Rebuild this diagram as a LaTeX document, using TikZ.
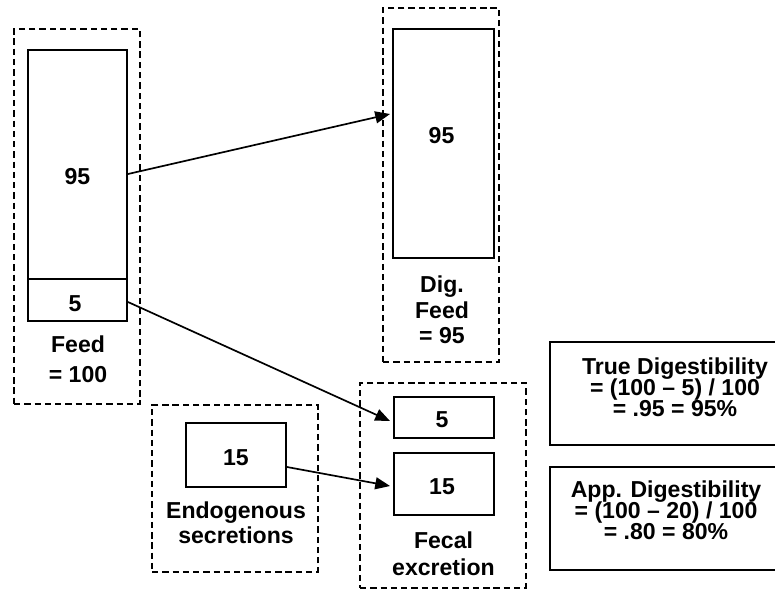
\documentclass[tikz,border=0pt]{standalone}
\usepackage{fontspec}
\setmainfont{Liberation Sans}
\usetikzlibrary{arrows.meta, calc, fit}
\setlength{\lineskiplimit}{-20pt}

\begin{document}
\begin{tikzpicture}[x=0.025cm, y=-0.025cm,
        box/.style={draw, line width=1.4pt, inner sep=0pt},
        grp/.style={draw, line width=1pt, dash pattern=on 4.5pt off 2.8pt, inner sep=0pt},
        txt/.style={font={\bfseries\fontsize{16.4pt}{#1}\selectfont}, align=center, inner sep=0pt},
        txt/.default=18pt,
        flow/.style={line width=1.2pt, -{Triangle[length=10.5pt, width=8.5pt]}}]
        \useasboundingbox (0,0) rectangle (775,592);

        % feed
        \node[grp, fit={(14,29) (140,404)}] (feedgrp) {};
        \node[box, fit={(28,50) (127,279)}] (feeddig) {};
        \node[box, fit={(28,279) (127,321)}] (feedind) {};
        \node[txt] (feeddignum) at (77.5,177) {95};
        \node[txt] (feedindnum) at (75,304) {5};
        \node[txt=21.3pt] (feedlbl) at (78,359.5) {Feed\\= 100};

        % digested feed
        \node[grp, fit={(383,8) (499,362)}] (diggrp) {};
        \node[box, fit={(393,29) (494,258)}] (digbox) {};
        \node[txt] (dignum) at (441.5,136) {95};
        \node[txt=18.3pt] (diglbl) at (442,310) {Dig.\\Feed\\= 95};

        % endogenous
        \node[grp, fit={(152,405) (318,572)}] (endogrp) {};
        \node[box, fit={(186,423) (286,487)}] (endobox) {};
        \node[txt] (endonum) at (236,458) {15};
        \node[txt=17.8pt] (endolbl) at (236,523) {Endogenous\\secretions};

        % fecal
        \node[grp, fit={(360,383) (526,588)}] (fecgrp) {};
        \node[box, fit={(394,397) (494,438)}] (fecind) {};
        \node[box, fit={(394,453) (494,515)}] (fecendo) {};
        \node[txt] (fecindnum) at (442,420) {5};
        \node[txt] (fecendonum) at (442,487) {15};
        \node[txt=19.2pt] (feclbl) at (443.5,554) {Fecal\\excretion};

        % digestibility
        \node[box, fit={(550,342) (800,445)}] (truebox) {};
        \node[box, fit={(550,467) (800,570)}] (appbox) {};
        \node[txt=15pt] (truelbl) at (675,387) {True Digestibility\\= (100 -- 5) / 100\\= .95 = 95\%};
        \node[txt=15pt] (applbl) at (666,510) {App. Digestibility\\= (100 -- 20) / 100\\= .80 = 80\%};

        \draw[flow] ($(feeddig.east)+(0,9.5)$) -- ($(digbox.west)+(-2,-29.5)$);
        \draw[flow] ($(feedind.east)+(0,2)$) -- ($(fecind.west)+(-3,3.5)$);
        \draw[flow] ($(endobox.east)+(0,12)$) -- ($(fecendo.west)+(-3,2)$);
\end{tikzpicture}
\end{document}
